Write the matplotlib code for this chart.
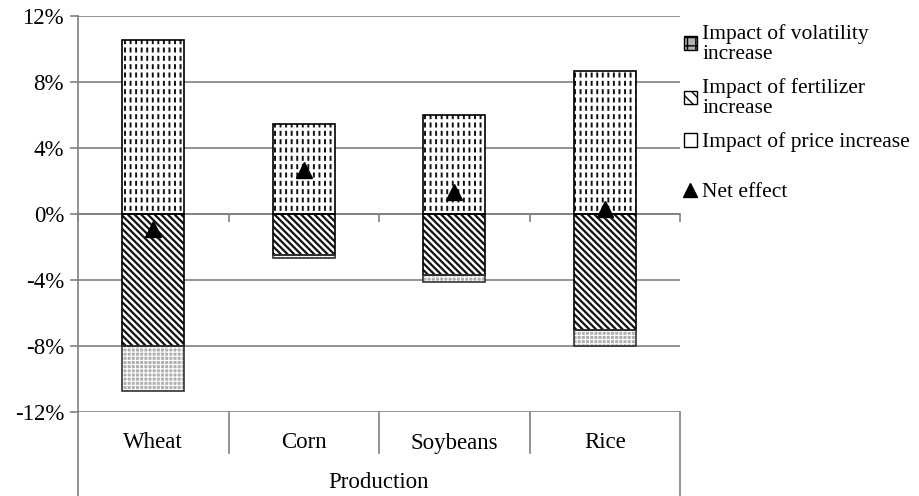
import matplotlib
matplotlib.use("Agg")
import matplotlib.pyplot as plt
from matplotlib.patches import Patch
from matplotlib.lines import Line2D
import numpy as np

# data (percent)
crops = ["Wheat", "Corn", "Soybeans", "Rice"]
price_impact = [10.55, 5.45, 6.0, 8.67]
fertilizer_impact = [-8.0, -2.5, -3.7, -7.03]
volatility_impact = [-2.7, -0.15, -0.4, -0.97]
net_effect = [-0.9, 2.67, 1.33, 0.3]
y_ticks = [-12, -8, -4, 0, 4, 8, 12]
group_label = "Production"

plt.rcParams['font.family'] = ['Liberation Serif', 'DejaVu Serif']
plt.rcParams['font.size'] = 16.5

W, H = 919, 496
fig = plt.figure(figsize=(W / 100, H / 100), dpi=100)
ax = fig.add_axes([78 / W, 1 - 412 / H, (680 - 78) / W, (412 - 16) / H])

x = np.arange(len(crops)) + 0.5
bw = 0.41
grey = '#808080'


def hatch_lw(bars, lw):
    for p in bars:
        if hasattr(p, 'set_hatch_linewidth'):
            p.set_hatch_linewidth(lw)


# price bars: vertical lines cut by white horizontal lines -> dashes
b = ax.bar(x, price_impact, bw, color='white', edgecolor='#111111', hatch='|||', linewidth=0, zorder=2)
hatch_lw(b, 1.4)
b = ax.bar(x, price_impact, bw, fill=False, edgecolor='white', hatch='--', linewidth=0, zorder=2.1)
hatch_lw(b, 2.4)
ax.bar(x, price_impact, bw, fill=False, edgecolor='black', linewidth=1.2, zorder=3)

# fertilizer bars
b = ax.bar(x, fertilizer_impact, bw, color='white', edgecolor='#111111', hatch='\\\\\\\\\\', linewidth=0, zorder=2)
hatch_lw(b, 1.6)
ax.bar(x, fertilizer_impact, bw, fill=False, edgecolor='black', linewidth=1.2, zorder=3)

# volatility bars stacked below fertilizer
b = ax.bar(x, volatility_impact, bw, bottom=fertilizer_impact, color='#b0b0b0', edgecolor='white',
           hatch='++++', linewidth=0, zorder=2)
hatch_lw(b, 0.8)
ax.bar(x, volatility_impact, bw, bottom=fertilizer_impact, fill=False, edgecolor='#333333',
       linewidth=1.2, zorder=3)

ax.plot(x, net_effect, linestyle='none', marker='^', color='black', markersize=11, zorder=4)

ax.set_xlim(0, len(crops))
ax.set_ylim(-12, 12)
ax.set_yticks(y_ticks)
ax.set_yticklabels([f"{v}%" for v in y_ticks])
ax.yaxis.grid(True, color=grey, linewidth=1.2)
ax.set_axisbelow(True)
ax.tick_params(axis='y', length=6, color=grey, width=1.2, pad=4)

for s in ['top', 'right']:
    ax.spines[s].set_visible(False)
ax.spines['left'].set_color(grey)
ax.spines['left'].set_linewidth(1.2)
ax.spines['bottom'].set_position(('data', 0))
ax.spines['bottom'].set_color(grey)
ax.spines['bottom'].set_linewidth(1.2)
ax.set_xticks(range(len(crops) + 1))
ax.set_xticklabels([])
ax.tick_params(axis='x', length=6, color=grey, width=1.2)

# multi-level category axis below the plot
low = -(496 - 412) / (412 - 16)
mid = -(453 - 412) / (412 - 16)
ax.plot([0, 0], [0, low], color=grey, lw=1.2, transform=ax.transAxes, clip_on=False)
ax.plot([1, 1], [0, low], color=grey, lw=1.2, transform=ax.transAxes, clip_on=False)
for i in range(1, len(crops)):
    ax.plot([i / len(crops)] * 2, [0, mid], color=grey, lw=1.2, transform=ax.transAxes, clip_on=False)
for i, c in enumerate(crops):
    ax.text((i + 0.5) / len(crops), -(443 - 412) / (412 - 16), c, ha='center', va='center',
            transform=ax.transAxes)
ax.text(0.5, -(483 - 412) / (412 - 16), group_label, ha='center', va='center', transform=ax.transAxes)

# legend
handles = [
    Patch(facecolor='#b0b0b0', edgecolor='black', hatch='++'),
    Patch(facecolor='white', edgecolor='black', hatch='\\\\\\'),
    Patch(facecolor='white', edgecolor='black'),
]
labels = ["Impact of volatility\nincrease", "Impact of fertilizer\nincrease", "Impact of price increase"]
leg = fig.legend(handles, labels, loc='upper left', bbox_to_anchor=(684 / W, 1 - 24 / H), frameon=False,
                 handlelength=0.6, handleheight=0.6, handletextpad=0.25, labelspacing=0.68,
                 borderaxespad=0, borderpad=0, fontsize=15.5)
for t in leg.get_texts():
    t.set_linespacing(1.05)
fig.legend([Line2D([], [], linestyle='none', marker='^', color='black', markersize=10)], ["Net effect"],
           loc='center left', bbox_to_anchor=(684 / W, 1 - 192 / H), frameon=False,
           handlelength=0.6, handletextpad=0.25, borderaxespad=0, borderpad=0, fontsize=15.5)

fig.savefig("out.png", dpi=100)
